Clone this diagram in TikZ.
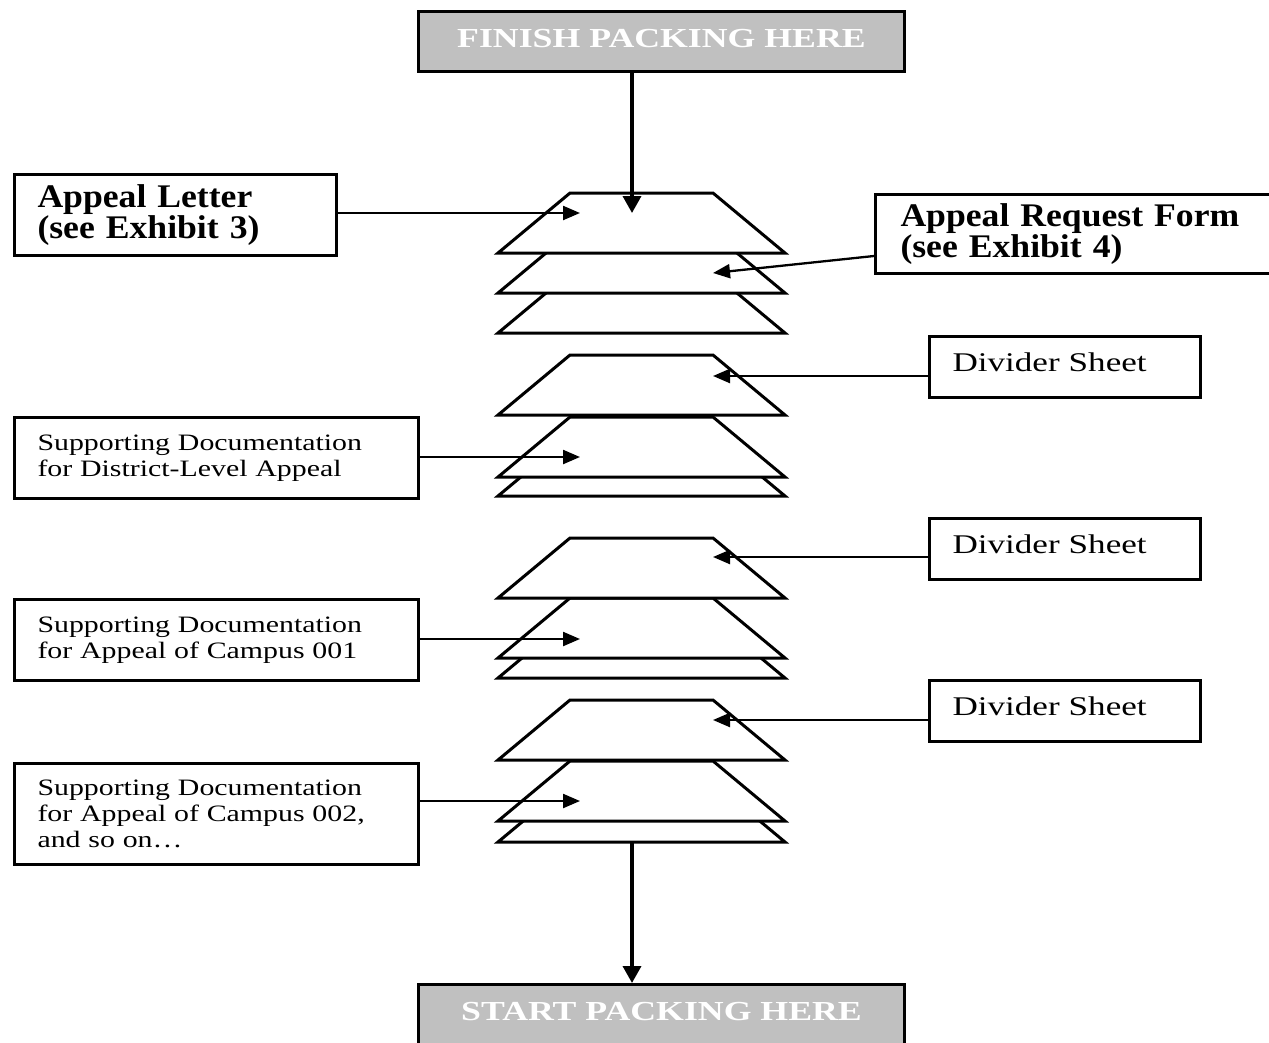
\documentclass[tikz,border=0pt]{standalone}
\usepackage{fontspec}
\setmainfont{Liberation Serif}
\newfontfamily\rmwide[FakeStretch=1.27]{Liberation Serif}
\newfontfamily\divwide[FakeStretch=1.3]{Liberation Serif}
\newfontfamily\bfwide[FakeStretch=1.08]{Liberation Serif}
\newfontfamily\capwide[FakeStretch=1.3]{Liberation Serif}
\usetikzlibrary{arrows.meta,calc}
\definecolor{headgray}{HTML}{C0C0C0}
\begin{document}
\begin{tikzpicture}[x=1pt,y=-1pt,
  boxnode/.style={draw, line width=3pt, fill=white, anchor=north west, align=left, inner ysep=0pt},
  headnode/.style={draw, line width=3pt, fill=headgray, anchor=north west, align=center, inner sep=0pt,
     minimum width=486pt, text=white, font=\capwide\bfseries\fontsize{27.5}{30}\selectfont},
  boldtxt/.style={font=\bfwide\bfseries\fontsize{33}{31}\selectfont},
  divtxt/.style={font=\divwide\fontsize{27}{30}\selectfont},
  supptxt/.style={font=\rmwide\fontsize{23.5}{26}\selectfont},
  sheet/.style={draw, fill=white, line width=3pt},
  harrow/.style={line width=2.3pt, -{Triangle[length=17pt,width=14pt]}},
  varrow/.style={line width=3.5pt, -{Triangle[length=17pt,width=18pt]}}
]
\useasboundingbox (0,0) rectangle (1269,1042);
\fill[white] (0,0) rectangle (1269,1042);

% sheets, back to front
\foreach \b in {842,821,760,678,658,598,496,477,415,333,293,253}{
  \filldraw[sheet] (498,\b) -- (785,\b) -- (713,{\b-60}) -- (570,{\b-60}) -- cycle;
}

% header / footer
\node[headnode, minimum height=60pt, text depth=6pt] (finish) at (417,10) {FINISH PACKING HERE};
\node[headnode, minimum height=66pt, text depth=12pt] (start) at (417,983) {START PACKING HERE};

% left boxes
\node[boxnode, boldtxt, minimum width=322pt, minimum height=81pt, inner xsep=23pt, text width=276pt] (letter) at (13,173)
  {Appeal Letter\\(see Exhibit 3)};
\node[boxnode, supptxt, minimum width=404pt, minimum height=81pt, inner xsep=23pt, text width=358pt] (supp1) at (13,416)
  {Supporting Documentation\\for District-Level Appeal};
\node[boxnode, supptxt, minimum width=404pt, minimum height=81pt, inner xsep=23pt, text width=358pt] (supp2) at (13,598)
  {Supporting Documentation\\for Appeal of Campus 001};
\node[boxnode, supptxt, minimum width=404pt, minimum height=101pt, inner xsep=23pt, text width=358pt] (supp3) at (13,762)
  {Supporting Documentation\\for Appeal of Campus 002,\\and so on\dots};

% right boxes
\node[boxnode, boldtxt, minimum width=420pt, minimum height=79pt, inner xsep=25pt, text width=370pt] (form) at (874,193)
  {Appeal Request Form\\(see Exhibit 4)};
\node[boxnode, divtxt, minimum width=271pt, minimum height=61pt, inner xsep=23pt, text width=225pt, text depth=10pt] (div1) at (928,335)
  {Divider Sheet};
\node[boxnode, divtxt, minimum width=271pt, minimum height=61pt, inner xsep=23pt, text width=225pt, text depth=10pt] (div2) at (928,517)
  {Divider Sheet};
\node[boxnode, divtxt, minimum width=271pt, minimum height=61pt, inner xsep=23pt, text width=225pt, text depth=10pt] (div3) at (928,679)
  {Divider Sheet};

% arrow end points on the sheets
\coordinate (top) at (632,213);
\coordinate (bot) at (632,843);
\coordinate (pl) at (580,213);
\coordinate (pf) at (713,273);
\coordinate (pd1) at (713,376);
\coordinate (ps1) at (580,457);
\coordinate (pd2) at (713,557);
\coordinate (ps2) at (580,639);
\coordinate (pd3) at (713,720);
\coordinate (ps3) at (580,801);

% connectors
\draw[varrow] (finish.south -| top) -- (top);
\draw[varrow] (bot) -- (start.north -| bot);
\draw[harrow] (letter.east |- pl) -- (pl);
\draw[harrow] ($(form.west)+(0,22)$) -- (pf);
\draw[harrow] (div1.west |- pd1) -- (pd1);
\draw[harrow] (div2.west |- pd2) -- (pd2);
\draw[harrow] (div3.west |- pd3) -- (pd3);
\draw[harrow] (supp1.east |- ps1) -- (ps1);
\draw[harrow] (supp2.east |- ps2) -- (ps2);
\draw[harrow] (supp3.east |- ps3) -- (ps3);
\end{tikzpicture}
\end{document}
